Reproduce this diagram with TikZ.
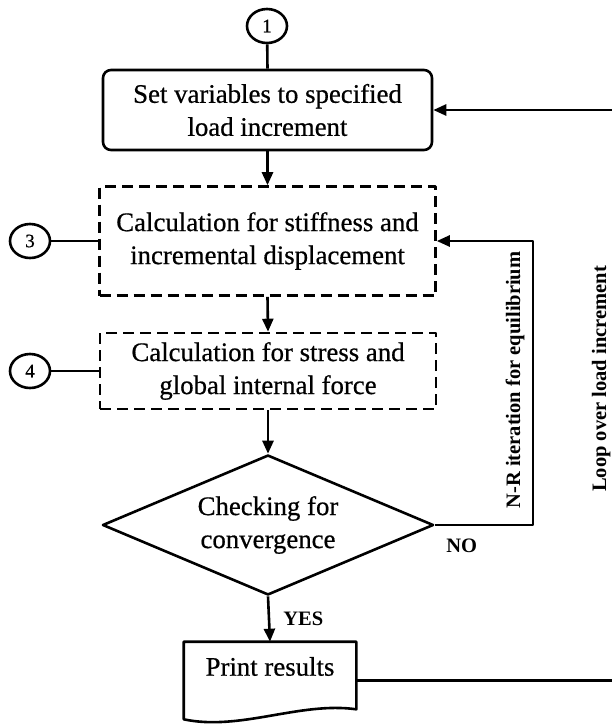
\documentclass[tikz,border=0pt]{standalone}
\usepackage{fontspec}
\setmainfont{Liberation Serif}
\newfontfamily\heavyserif{Liberation Serif}[FakeBold=0.6]
\usetikzlibrary{shapes.geometric,arrows.meta,calc}
\begin{document}
\begin{tikzpicture}[x=1pt,y=-1pt,line width=2.6pt,line join=round,
  >={Triangle[length=13pt,width=11pt]},
  boxtext/.style={font=\heavyserif\fontsize{26.8}{33}\selectfont,align=center,inner sep=0pt},
  procbox/.style={boxtext,draw,rounded corners=8pt},
  calcbox/.style={boxtext,draw,dash pattern=on 11pt off 6pt},
  decision/.style={boxtext,draw,diamond,aspect=2.36},
  refmark/.style={draw,ellipse,minimum width=40pt,minimum height=34pt,inner sep=0pt,
    font=\heavyserif\fontsize{19}{19}\selectfont},
  lbl/.style={font=\bfseries\fontsize{20.5}{22}\selectfont,inner sep=0pt}]
\useasboundingbox (0,0) rectangle (612,724);
\clip (0,0) rectangle (612,724);

% connector marks
\node[refmark] (c1) at (267,26) {1};
\node[refmark] (c3) at (30,241) {3};
\node[refmark] (c4) at (30,371) {4};

% process steps
\node[procbox,minimum width=329pt,minimum height=80pt] (b1) at (267.5,110)
  {Set variables to specified\\load increment};
\node[calcbox,minimum width=336pt,minimum height=109pt] (b2) at (267.5,241)
  {Calculation for stiffness and\\incremental displacement};
\node[calcbox,minimum width=336pt,minimum height=76pt] (b3) at (268,371)
  {Calculation for stress and\\global internal force};
\node[decision,minimum width=331pt,minimum height=140pt] (d) at (268,525)
  {Checking for\\convergence};

% output document
\node[inner sep=0pt,minimum width=170pt,minimum height=75pt] (p) at (270,680.5) {};
\node[boxtext] (ptext) at ($(p.center)+(0,-14)$) {Print results};
\draw (p.north west) -- (p.north east) -- ($(p.south east)+(0,-10)$)
  .. controls ($(p.south)+(30,-18)$) and ($(p.south)+(-30,12)$) .. (p.south west) -- cycle;

% main flow
\draw (c1) -- (b1.north);
\draw[->] (b1.south) -- (b2.north);
\draw[->] (b2.south) -- (b3.north);
\draw[->] (b3.south) -- (d.north);
\draw[->] (d.south) -- (p.north);
\node[lbl,anchor=base west] (yes) at (282,625) {YES};

% connector mark links
\draw (c3.east) -- (b2.west);
\draw (c4.east) -- (b3.west);

% Newton-Raphson loop
\coordinate (nr) at (533,241);
\draw[->] (d.east) -| (nr) -- (b2.east);
\node[lbl,anchor=base west] (no) at (445,552) {NO};
\node[lbl,rotate=90,anchor=base] (nrlbl) at (520,380) {N-R iteration for equilibrium};

% load increment loop
\coordinate (lp) at (630,110);
\draw[->] (p.east) -| (lp) -- (b1.east);
\node[lbl,rotate=90,anchor=base] (lplbl) at (606,379) {Loop over load increment};
\end{tikzpicture}
\end{document}
